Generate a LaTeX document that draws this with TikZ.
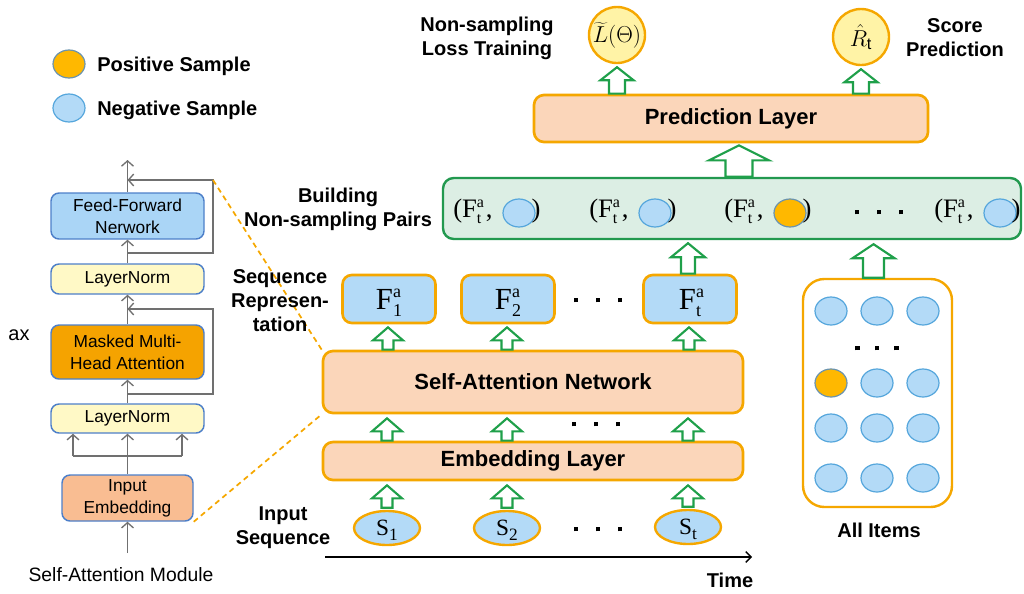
\documentclass[tikz,border=0pt]{standalone}
\usepackage{fontspec}
\setmainfont{Liberation Sans}
\newfontfamily\tms{Liberation Serif}
\usetikzlibrary{arrows.meta,calc,shapes.geometric}
\definecolor{peach}{HTML}{FBD6BA}
\definecolor{orng}{HTML}{F5A700}
\definecolor{lblue}{HTML}{B3DAF7}
\definecolor{eblue}{HTML}{55A6DC}
\definecolor{posfill}{HTML}{FFB800}
\definecolor{pairfill}{HTML}{DCEEE4}
\definecolor{pairline}{HTML}{22994F}
\definecolor{grn}{HTML}{1FA04A}
\definecolor{ffill}{HTML}{AAD5F6}
\definecolor{fline}{HTML}{4D7FC9}
\definecolor{lnfill}{HTML}{FFF9C6}
\definecolor{mhafill}{HTML}{F5A300}
\definecolor{iefill}{HTML}{F9BD92}
\definecolor{circfill}{HTML}{FFF3A6}
\definecolor{grayline}{HTML}{707070}
\def\PX{0.75pt}
\newcommand\FF[1]{{\tms\fontsize{23}{23}\selectfont F\smash{\fontsize{13.5}{13.5}\selectfont\rlap{\raisebox{8.5pt}{a}}\raisebox{-5.5pt}{#1}}}}
\newcommand\Ft{{\tms\fontsize{20}{20}\selectfont (F\smash{\fontsize{12}{12}\selectfont\rlap{\raisebox{7.5pt}{a}}\raisebox{-5pt}{t}}\,,}}
\newcommand\SeqS[1]{{\tms\fontsize{17.5}{17.5}\selectfont S\smash{\fontsize{13}{13}\selectfont\raisebox{-4pt}{#1}}}}
\newcommand\sqdots[1]{\rule{3.5pt}{3.5pt}\hspace{#1}\rule{3.5pt}{3.5pt}\hspace{#1}\rule{3.5pt}{3.5pt}}
\newcommand\garrow[5]{%
  \draw[garrowline] let \p1=#1, \p2=#2 in
   (\x1-#3*\PX,\y1) -- (\x1-#3*\PX,\y2-#5*\PX) -- (\x1-#4*\PX,\y2-#5*\PX) -- (\x1,\y2)
   -- (\x1+#4*\PX,\y2-#5*\PX) -- (\x1+#3*\PX,\y2-#5*\PX) -- (\x1+#3*\PX,\y1) -- cycle;}
\tikzset{
  mainbox/.style={draw=orng, line width=2pt, fill=peach, rounded corners=7.5pt,
    font=\fontsize{16.5}{18}\selectfont\bfseries, inner sep=0pt},
  fbox/.style={draw=orng, line width=2pt, fill=lblue, rounded corners=7pt, inner sep=0pt,
    minimum width=93*\PX, minimum height=48*\PX},
  sell/.style={ellipse, draw=orng, line width=1.8pt, fill=lblue, minimum width=66*\PX,
    minimum height=34*\PX, inner sep=0pt},
  item/.style={ellipse, draw=eblue, line width=0.9pt, fill=lblue, minimum width=32*\PX,
    minimum height=28*\PX, inner sep=0pt},
  positem/.style={fill=posfill, draw=eblue!50!gray},
  lbl/.style={font=\fontsize{15}{18}\selectfont\bfseries, align=center, inner sep=0pt},
  mbox/.style={draw=fline, line width=1.1pt, rounded corners=6pt, minimum width=153*\PX,
    inner sep=0pt, font=\fontsize{13}{16.5}\selectfont, align=center},
  garr/.style={draw=grayline, line width=1pt, -{Straight Barb[length=4pt,width=9pt]}},
  gline/.style={draw=grayline, line width=1pt},
  garrowline/.style={draw=grn, line width=1.6pt, fill=white, line join=miter},
  outc/.style={circle, draw=orng, line width=1.8pt, fill=circfill, minimum size=56*\PX, inner sep=0pt},
  dotsn/.style={inner sep=0pt},
  ptext/.style={inner sep=0pt},
  dashl/.style={draw=orng, line width=1.3pt, dash pattern=on 4pt off 3pt}
}
\begin{document}
\begin{tikzpicture}[x=0.75pt,y=-0.75pt]
\useasboundingbox (0,0) rectangle (1024,593);
% ---------------- legend
\node[item, positem] (lpos) at (69,64) {};
\node[lbl, anchor=west] (lpost) at (97,66) {Positive Sample};
\node[item] (lneg) at (69,108) {};
\node[lbl, anchor=west] (lnegt) at (97,110) {Negative Sample};
% ---------------- self-attention module
\node[mbox, fill=ffill, minimum height=46*\PX] (ff) at (127.5,216) {Feed-Forward\\Nerwork};
\node[mbox, fill=lnfill, minimum height=30*\PX] (ln1) at (127.5,279) {LayerNorm};
\node[mbox, fill=mhafill, minimum height=54*\PX] (mha) at (127.5,352) {Masked Multi-\\Head Attention};
\node[mbox, fill=lnfill, minimum height=29*\PX] (ln2) at (127.5,418.5) {LayerNorm};
\node[mbox, fill=iefill, minimum width=131*\PX, minimum height=46*\PX] (ie) at (127.5,498) {Input\\Embedding};
\node[font=\fontsize{15}{15}\selectfont, inner sep=0pt] (ax) at (19,335) {ax};
\node[font=\fontsize{14.5}{16}\selectfont, inner sep=0pt] (sam) at (121,575) {Self-Attention Module};
\coordinate (inp) at (127.5,553);
\coordinate (brl) at (73,456);
\coordinate (brr) at (182,456);
\coordinate (r1s) at (127.5,394);
\coordinate (r1c) at (213,309);
\coordinate (r1e) at (127.5,309);
\coordinate (r2s) at (127.5,253);
\coordinate (r2c) at (213,180);
\coordinate (r2e) at (127.5,180);
\coordinate (mtop) at (127.5,160);
\draw[garr] (inp) -- (ie.south);
\draw[garr] (ie.north) -- (ln2.south);
\draw[gline] (brl) -- (brr);
\draw[garr] (brl) -- (brl |- ln2.south);
\draw[garr] (brr) -- (brr |- ln2.south);
\draw[garr] (ln2.north) -- (mha.south);
\draw[garr] (r1s) -| (r1c) -- (r1e);
\draw[garr] (mha.north) -- (ln1.south);
\draw[garr] (ln1.north) -- (ff.south);
\draw[garr] (r2s) -| (r2c) -- (r2e);
\draw[garr] (ff.north) -- (mtop);
% ---------------- main pipeline
\node[mainbox, minimum width=420*\PX, minimum height=62*\PX] (san) at (533,382) {Self-Attention Network};
\node[mainbox, minimum width=420*\PX, minimum height=38*\PX] (emb) at (533,461) {Embedding Layer};
\node[fbox] (f1) at (389,299) {\FF{1}};
\node[fbox] (f2) at (508,299) {\FF{2}};
\node[fbox] (ft) at (690,299) {\FF{t}};
\node[sell] (s1) at (387,528) {\SeqS{1}};
\node[sell] (s2) at (507,528) {\SeqS{2}};
\node[sell] (st) at (688,527) {\SeqS{t}};
\node[dotsn] (d1) at (598,300) {\sqdots{13pt}};
\node[dotsn] (d2) at (596,424) {\sqdots{13pt}};
\node[dotsn] (d3) at (598,529) {\sqdots{13pt}};
\draw[dashl] (r2c) -- (san.north west);
\draw[dashl] (ie.south east) -- (san.south west);
% time axis
\coordinate (t0) at (325,557);
\coordinate (t1) at (752,557);
\draw[line width=1pt, -{Straight Barb[length=4pt,width=8pt]}] (t0) -- (t1);
\node[lbl] (time) at (730,580) {Time};
% labels
\node[lbl] (inseq) at (283,528) {Input\\Sequence};
\node[lbl] (seqrep) at (280,301) {Sequence\\Represen-\\tation};
\node[lbl] (build) at (338,209) {Building\\Non-sampling Pairs};
\node[lbl] (nsl) at (487,38) {Non-sampling\\Loss Training};
\node[lbl] (scp) at (955,38) {Score\\Prediction};
% pairs box
\node[draw=pairline, line width=1.8pt, fill=pairfill, rounded corners=8pt, minimum width=578*\PX,
  minimum height=61*\PX, inner sep=0pt] (pairs) at (732,208.5) {};
\node[ptext, anchor=base west] (p1t) at (453,217) {\Ft};
\node[item] (p1e) at (519,213) {};
\node[ptext, anchor=base, font=\tms\fontsize{20}{20}\selectfont] (p1p) at (536,217) {)};
\node[ptext, anchor=base west] (p2t) at (589,217) {\Ft};
\node[item] (p2e) at (655,213) {};
\node[ptext, anchor=base, font=\tms\fontsize{20}{20}\selectfont] (p2p) at (672,217) {)};
\node[ptext, anchor=base west] (p3t) at (724,217) {\Ft};
\node[item, positem] (p3e) at (790,213) {};
\node[ptext, anchor=base, font=\tms\fontsize{20}{20}\selectfont] (p3p) at (807,217) {)};
\node[dotsn] (d4) at (879,212) {\sqdots{13pt}};
\node[ptext, anchor=base west] (p4t) at (934,217) {\Ft};
\node[item] (p4e) at (1000,213) {};
\node[ptext, anchor=base, font=\tms\fontsize{20}{20}\selectfont] (p4p) at (1016,217) {)};
% prediction
\node[mainbox, minimum width=394*\PX, minimum height=47*\PX] (pred) at (731,118.5) {Prediction Layer};
\node[outc] (loss) at (617,35) {\fontsize{17.5}{17.5}\selectfont$\widetilde{L}(\Theta)$};
\node[outc] (score) at (861,37) {\fontsize{17.5}{17.5}\selectfont$\hat{R}_{\mathrm{t}}$};
% all items
\node[draw=orng, line width=1.8pt, fill=white, rounded corners=16pt, minimum width=149*\PX,
  minimum height=228*\PX, inner sep=0pt] (items) at (877.5,393) {};
\node[item] (i11) at (831,311) {};
\node[item] (i12) at (877,311) {};
\node[item] (i13) at (923,311) {};
\node[dotsn] (d5) at (877,348) {\sqdots{11pt}};
\node[item, positem] (i21) at (831,383) {};
\node[item] (i22) at (877,383) {};
\node[item] (i23) at (923,383) {};
\node[item] (i31) at (831,428) {};
\node[item] (i32) at (877,428) {};
\node[item] (i33) at (923,428) {};
\node[item] (i41) at (831,478) {};
\node[item] (i42) at (877,478) {};
\node[item] (i43) at (923,478) {};
\node[lbl] (allit) at (879,530) {All Items};
% green block arrows
\foreach \nm in {s1,s2,st}{
  \garrow{($(\nm.north)+(0,-2)$)}{($(\nm.north |- emb.south)+(0,4)$)}{5.5}{15}{13}
}
\foreach \nm in {s1,s2,st}{
  \garrow{(\nm.north |- emb.north)}{($(\nm.north |- san.south)+(0,4)$)}{5.5}{15}{13}
}
\foreach \nm in {f1,f2,ft}{
  \garrow{($(\nm.south |- san.north)+(-1,0)$)}{($(\nm.south)+(-1,3)$)}{5.5}{15}{13}
}
\garrow{($(ft.north)+(-2,0)$)}{($(ft.north |- pairs.south)+(-2,3)$)}{7}{17}{14}
\garrow{($(items.north)+(-4,0)$)}{($(items.north |- pairs.south)+(-4,4)$)}{10.5}{21}{14}
\garrow{($(pairs.north)+(7,0)$)}{($(pairs.north |- pred.south)+(7,2)$)}{13.5}{30}{15}
\garrow{(loss.south |- pred.north)}{($(loss.south)+(0,3)$)}{8}{16.5}{13}
\garrow{(score.south |- pred.north)}{($(score.south)+(0,3)$)}{8}{16.5}{13}
\end{tikzpicture}
\end{document}
